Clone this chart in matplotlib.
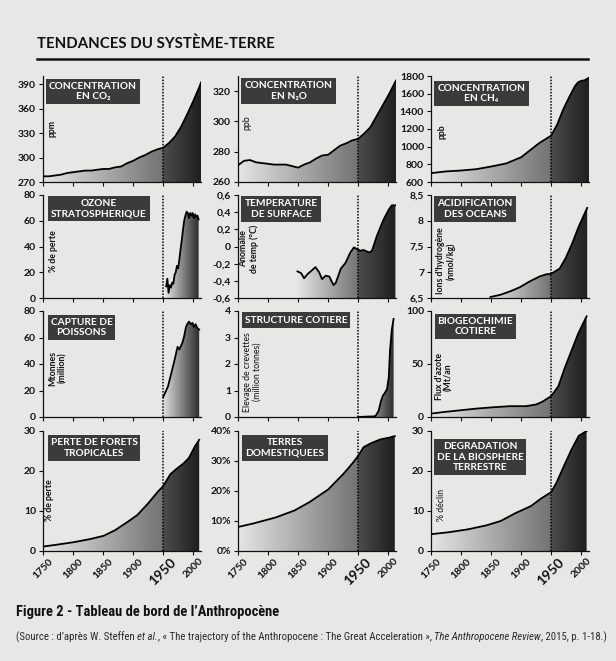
import numpy as np
import matplotlib
matplotlib.use('Agg')
import matplotlib.pyplot as plt
from matplotlib.patches import Polygon
from matplotlib.lines import Line2D

plt.rcParams['font.family'] = ['Lato', 'DejaVu Sans']

# ---- data ----
tick_years = [1750, 1800, 1850, 1900, 1950, 2000]
tick_labels = ['1750', '1800', '1850', '1900', '1950', '2000']

co2_years = [1750, 1760, 1770, 1780, 1790, 1800, 1810, 1820, 1830, 1840, 1850, 1860, 1870, 1880,
             1890, 1900, 1910, 1920, 1930, 1940, 1950, 1960, 1970, 1980, 1990, 2000, 2010, 2013]
co2 = [277, 277, 278, 279, 281, 282, 283, 284, 284, 285, 286, 286, 288, 289,
       293, 296, 300, 303, 307, 310, 312, 318, 326, 338, 353, 369, 386, 392]

n2o_years = [1750, 1760, 1770, 1780, 1790, 1800, 1810, 1820, 1830, 1840, 1850, 1860, 1870, 1880,
             1890, 1900, 1910, 1920, 1930, 1940, 1950, 1960, 1970, 1980, 1990, 2000, 2013]
n2o = [271, 274, 274.5, 273, 272.5, 272, 271.5, 271.5, 271.5, 270.5, 269.5, 271.5, 273, 275.5,
       277.5, 278, 281, 284, 285.5, 287.5, 288.5, 292, 296, 303, 310, 317, 327]

ch4_years = [1750, 1775, 1800, 1825, 1850, 1875, 1900, 1915, 1930, 1950, 1960, 1970, 1980, 1990,
             1995, 2000, 2005, 2013]
ch4 = [700, 720, 730, 745, 775, 810, 880, 960, 1040, 1125, 1250, 1420, 1560, 1690,
       1730, 1745, 1750, 1780]

ozone_years = [1955, 1957, 1959, 1961, 1963, 1965, 1967, 1969, 1971, 1973, 1975, 1977, 1979, 1981,
               1983, 1985, 1987, 1989, 1991, 1993, 1995, 1997, 1999, 2001, 2003, 2005, 2007, 2009]
ozone = [9, 15, 4, 10, 8, 12, 11, 18, 20, 25, 23, 30, 38, 45,
         53, 60, 64, 67, 66, 62, 66, 64, 66, 62, 65, 63, 64, 61]

temp_years = [1849, 1855, 1860, 1866, 1871, 1879, 1885, 1890, 1896, 1902, 1909, 1913, 1921, 1929,
              1937, 1943, 1948, 1954, 1959, 1968, 1973, 1981, 1992, 2001, 2006, 2012]
temp = [-0.29, -0.31, -0.37, -0.32, -0.29, -0.24, -0.30, -0.38, -0.34, -0.35, -0.45, -0.42, -0.26, -0.19,
        -0.07, -0.01, -0.03, -0.05, -0.04, -0.07, -0.05, 0.12, 0.31, 0.43, 0.48, 0.48]

acid_years = [1849, 1865, 1882, 1898, 1914, 1931, 1942, 1950, 1964, 1974, 1985, 1996, 2010]
acid = [6.52, 6.56, 6.63, 6.71, 6.82, 6.92, 6.96, 6.97, 7.07, 7.27, 7.56, 7.89, 8.25]

fish_years = [1950, 1953, 1958, 1963, 1969, 1972, 1974, 1977, 1980, 1982, 1985, 1988, 1990, 1993,
              1996, 1999, 2001, 2004, 2007, 2010]
fish = [15, 18, 23, 32, 43, 49, 53, 51, 54, 56, 61, 68, 70, 72,
        70, 71, 68, 70, 67, 66]

shrimp_years = [1950, 1960, 1970, 1975, 1979, 1984, 1988, 1991, 1995, 1998, 2001, 2003, 2006, 2009]
shrimp = [0.0, 0.01, 0.02, 0.02, 0.04, 0.23, 0.6, 0.8, 0.93, 1.05, 1.5, 2.5, 3.3, 3.7]

bio_years = [1750, 1773, 1800, 1827, 1854, 1881, 1908, 1925, 1935, 1950, 1962, 1973, 1984, 1995, 2009]
bio = [3.2, 4.8, 6.4, 8.0, 9.2, 10.2, 10.2, 11.8, 14.3, 19.7, 29, 46.8, 62.7, 78.7, 95]

forest_years = [1750, 1774, 1801, 1829, 1851, 1870, 1891, 1907, 1925, 1941, 1950, 1962, 1972, 1984,
                1993, 2003, 2010]
forest = [1.1, 1.6, 2.2, 3.0, 3.8, 5.2, 7.3, 9.0, 11.9, 14.8, 16.2, 19.2, 20.5, 21.9,
          23.3, 26.2, 27.8]

land_years = [1750, 1776, 1813, 1844, 1869, 1900, 1925, 1940, 1950, 1959, 1971, 1987, 2002, 2011]
land = [8, 9.2, 11.2, 13.5, 16.3, 20.5, 25.6, 29.1, 31.7, 34.6, 35.9, 37.2, 37.8, 38.3]

bios_years = [1750, 1780, 1811, 1842, 1866, 1891, 1916, 1934, 1950, 1959, 1972, 1984, 1996, 2009]
bios = [4.2, 4.7, 5.4, 6.4, 7.5, 9.5, 11.2, 13.2, 14.7, 17.1, 21.5, 25.4, 28.8, 30]

# ---- layout (pixels of the 616x661 page) ----
W, H = 616, 661
XMIN, XMAX = 1750, 2013
col_left = [43, 238, 431]
axw = 158
row_top = [76, 195, 311, 431]
row_bot = [182, 298, 417, 551]

fig = plt.figure(figsize=(W / 100, H / 100), dpi=100)
paper = '#e7e7e5'
fig.patch.set_facecolor(paper)


def fx(x):
    return x / W


def fy(y):
    return 1 - y / H


def shade(xs, x0, x1):
    # light -> mid grey until 1950, then dark -> nearly black
    if x0 < 1950:
        g = np.empty_like(xs)
        pre = xs < 1950
        t = np.clip((xs - x0) / (1950 - x0), 0, 1)
        g[pre] = 0.90 + (0.45 - 0.90) * t[pre]
        t2 = np.clip((xs - 1950) / (x1 - 1950), 0, 1)
        g[~pre] = 0.30 + (0.12 - 0.30) * t2[~pre]
    else:
        t = np.clip((xs - x0) / (x1 - x0), 0, 1)
        g = 0.88 + (0.18 - 0.88) * t
    return g


panels = [
    (0, 0, co2_years, co2, (270, 400), [270, 300, 330, 360, 390], None,
     'CONCENTRATION\nEN CO₂', (93, 91.5), 'ppm', (52, 128), 'bold'),
    (0, 1, n2o_years, n2o, (260, 330), [260, 280, 300, 320], None,
     'CONCENTRATION\nEN N₂O', (288.5, 91), 'ppb', (247, 123), 'normal'),
    (0, 2, ch4_years, ch4, (600, 1800), [600, 800, 1000, 1200, 1400, 1600, 1800], None,
     'CONCENTRATION\nEN CH₄', (481.5, 93.5), 'ppb', (442, 132), 'bold'),
    (1, 0, ozone_years, ozone, (0, 80), [0, 20, 40, 60, 80], None,
     'OZONE\nSTRATOSPHERIQUE', (99, 208.5), '% de perte', (53, 251), 'bold'),
    (1, 1, temp_years, temp, (-0.6, 0.6), [-0.6, -0.4, -0.2, 0, 0.2, 0.4, 0.6],
     ['-0,6', '-0,4', '-0,2', '0', '0,2', '0,4', '0,6'],
     'TEMPERATURE\nDE SURFACE', (281, 209), 'Anomalie\nde temp (°C)', (249, 249), 'bold'),
    (1, 2, acid_years, acid, (6.5, 8.5), [6.5, 7, 7.5, 8, 8.5], ['6,5', '7', '7,5', '8', '8,5'],
     'ACIDIFICATION\nDES OCEANS', (475, 209), "Ions d'hydrogène\n(nmol/kg)", (446, 261), 'bold'),
    (2, 0, fish_years, fish, (0, 80), [0, 20, 40, 60, 80], None,
     'CAPTURE DE\nPOISSONS', (81.5, 327.5), 'Mtonnes\n(million)', (58, 368), 'bold'),
    (2, 1, shrimp_years, shrimp, (0, 4), [0, 1, 2, 3, 4], None,
     'STRUCTURE COTIERE', (296, 320), 'Elevage de crevettes\n(million tonnes)', (252, 372), 'normal'),
    (2, 2, bio_years, bio, (0, 100), [0, 50, 100], None,
     'BIOGEOCHIMIE\nCOTIERE', (475.5, 326.5), "Flux d'azote\n(Mt/an", (444, 377), 'bold'),
    (3, 0, forest_years, forest, (0, 30), [0, 10, 20, 30], None,
     'PERTE DE FORETS\nTROPICALES', (94, 448), '% de perte', (50, 500), 'bold'),
    (3, 1, land_years, land, (0, 40), [0, 10, 20, 30, 40], ['0%', '10%', '20%', '30%', '40%'],
     'TERRES\nDOMESTIQUEES', (285, 448), None, None, 'bold'),
    (3, 2, bios_years, bios, (0, 30), [0, 10, 20, 30], None,
     'DEGRADATION\nDE LA BIOSPHERE\nTERRESTRE', (480, 457), '% déclin', (442, 505), 'normal'),
]

for (r, c, yrs, vals, ylim, yt, ytl, box, boxc, ylab, ylabc, ylabw) in panels:
    top, bot = row_top[r], row_bot[r]
    ax = fig.add_axes([fx(col_left[c]), fy(bot), axw / W, (bot - top) / H])
    ax.set_facecolor('none')

    xs = np.linspace(XMIN, XMAX, 800)
    g = shade(xs, yrs[0], yrs[-1])
    img = np.repeat(g[None, :, None], 3, axis=2)
    im = ax.imshow(img, extent=(XMIN, XMAX, ylim[0], ylim[1]), aspect='auto',
                   origin='lower', interpolation='bilinear', zorder=1)
    verts = [(yrs[0], ylim[0])] + list(zip(yrs, vals)) + [(yrs[-1], ylim[0])]
    poly = Polygon(verts, closed=True, fc='none', ec='none', transform=ax.transData)
    ax.add_patch(poly)
    im.set_clip_path(poly)
    ax.plot(yrs, vals, color='black', lw=1.3, zorder=3, solid_joinstyle='round')
    ax.axvline(1950, color='black', ls=(0, (1, 1)), lw=1.1, zorder=4)

    ax.set_xlim(XMIN, XMAX)
    ax.set_ylim(*ylim)
    for s in ['top', 'right']:
        ax.spines[s].set_visible(False)
    for s in ['left', 'bottom']:
        ax.spines[s].set_linewidth(0.9)
        ax.spines[s].set_color('#111111')

    if ytl is None:
        ytl = [str(v) for v in yt]
    ax.set_yticks(yt, ytl)
    ax.tick_params(axis='y', length=3, width=0.8, pad=2, labelsize=7.5, colors='#111111')
    for lab in ax.get_yticklabels():
        lab.set_fontweight('bold')

    if r == 3:
        ax.set_xticks(tick_years, tick_labels)
        ax.tick_params(axis='x', length=3, width=0.8, pad=1, colors='#111111')
        for lab in ax.get_xticklabels():
            lab.set_rotation(45)
            lab.set_fontweight('bold')
            lab.set_ha('center')
            lab.set_fontsize(10 if lab.get_text() == '1950' else 7.5)
    else:
        ax.set_xticks(tick_years, [''] * len(tick_years))
        ax.tick_params(axis='x', length=3, width=0.8, colors='#111111')

    fig.text(fx(boxc[0]), fy(boxc[1]), box, ha='center', va='center', color='white',
             fontsize=7.3, fontweight='bold', linespacing=1.2,
             bbox=dict(boxstyle='square,pad=0.3', fc='#3b3b3b', ec='none'))
    if ylab:
        fig.text(fx(ylabc[0]), fy(ylabc[1]), ylab, rotation=90, ha='center', va='center',
                 fontsize=6.3, fontweight=ylabw, color='#111111', linespacing=1.1)

# ---- title, rule, caption ----
rend = fig.canvas.get_renderer()


def fit(t, target):
    w = t.get_window_extent(rend).width
    t.set_fontsize(t.get_fontsize() * target / w)


t = fig.text(fx(37), fy(43.5), 'TENDANCES DU SYSTÈME-TERRE', fontsize=12, fontweight='bold',
             va='center', color='#111111')
fit(t, 238)
fig.add_artist(Line2D([fx(37), fx(588)], [fy(59), fy(59)], color='#111111', lw=1.8))

cap_font = ['Roboto Condensed', 'Liberation Sans Narrow', 'Roboto', 'DejaVu Sans']
t = fig.text(fx(16), fy(612), 'Figure 2 - Tableau de bord de l’Anthropocène', fontsize=11,
             fontweight='bold', va='center', color='#111111', family=cap_font)
fit(t, 261)

source = [
    ('(Source : d’après W. Steffen ', 'normal'),
    ('et al.', 'italic'),
    (', « The trajectory of the Anthropocene : The Great Acceleration », ', 'normal'),
    ('The Anthropocene Review', 'italic'),
    (', 2015, p. 1-18.)', 'normal'),
]


def pieces_line(x0, y, pieces, size):
    x = x0
    out = []
    for s, st in pieces:
        tt = fig.text(fx(x), fy(y), s, fontsize=size, fontstyle=st, va='center',
                      color='#2a2a2a', family=cap_font)
        x += tt.get_window_extent(rend).width
        out.append(tt)
    return out, x - x0


texts, width = pieces_line(16, 637, source, 8)
for tt in texts:
    tt.remove()
texts, width = pieces_line(16, 637, source, 8 * 587 / width)

fig.savefig('out.png', dpi=100, facecolor=fig.get_facecolor())
